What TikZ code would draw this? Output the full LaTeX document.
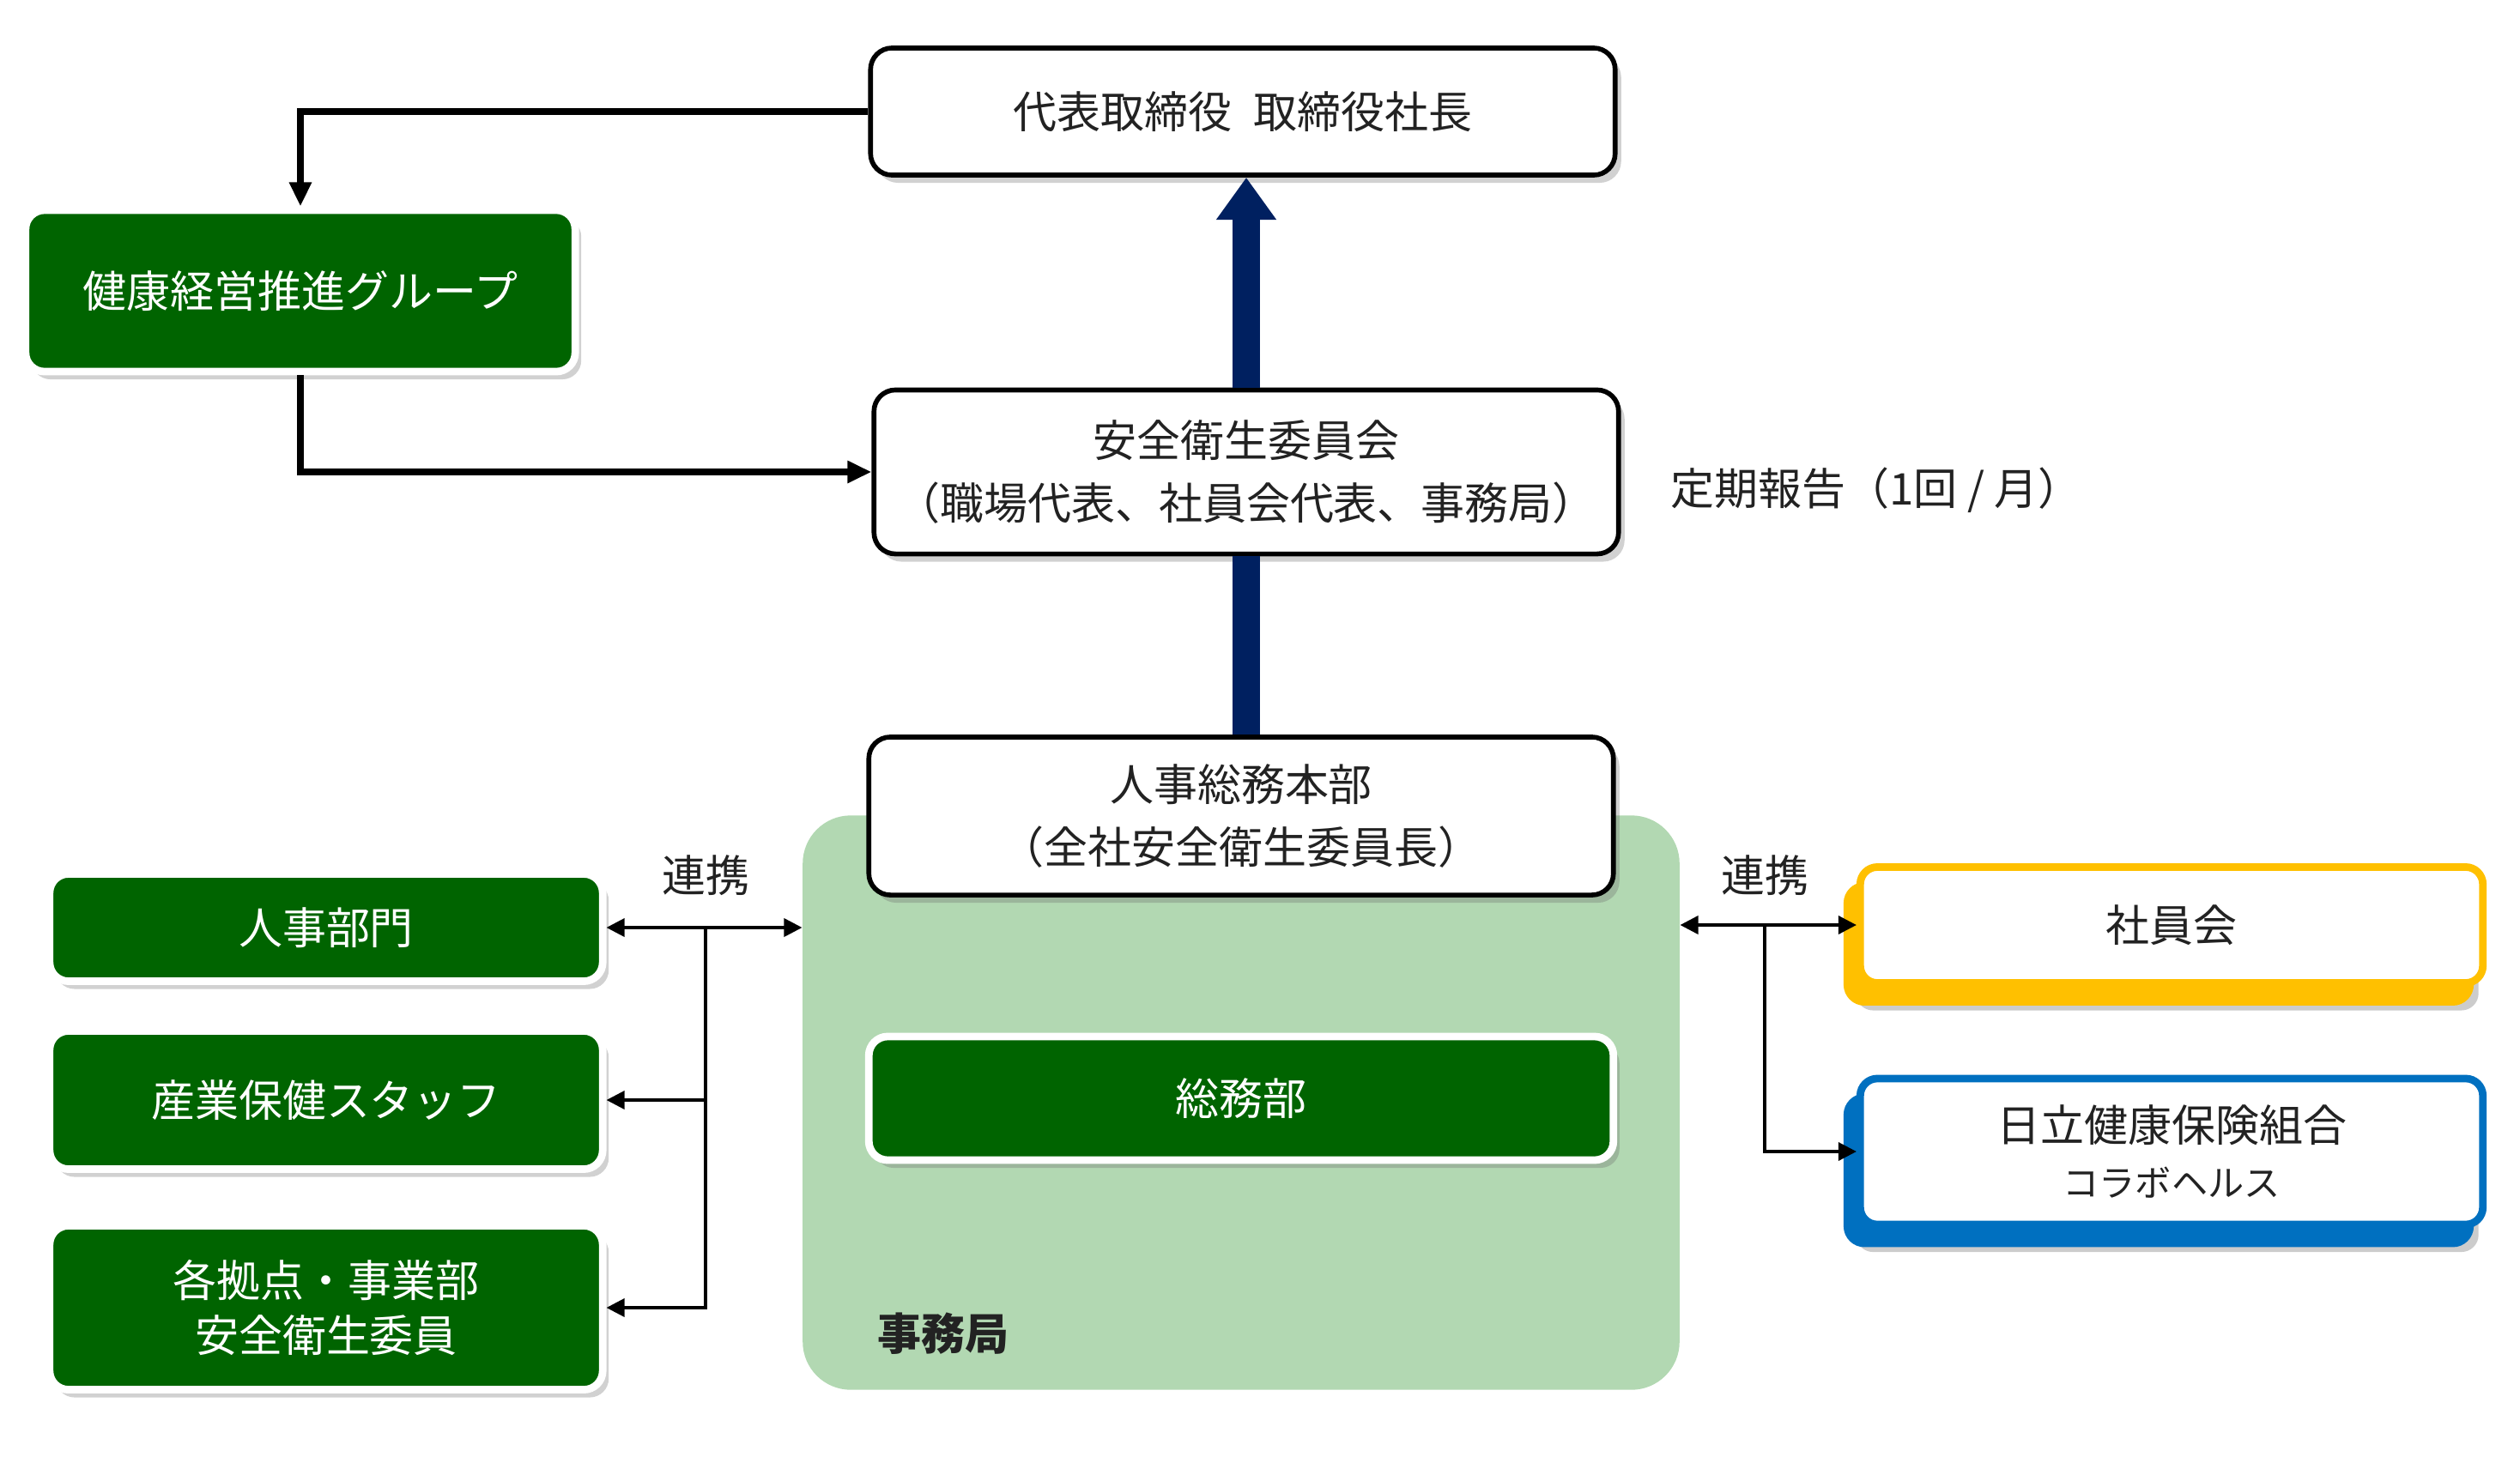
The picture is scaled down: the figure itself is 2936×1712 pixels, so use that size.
\documentclass[tikz,border=0pt]{standalone}
\usepackage{fontspec}
\setmainfont{Noto Sans CJK JP}
\usepackage{tikz}
\usetikzlibrary{arrows.meta}
\usetikzlibrary{shadows}
\usetikzlibrary{backgrounds}

\definecolor{deepgreen}{RGB}{0,100,0}
\definecolor{palegreen}{RGB}{178,216,178}
\definecolor{navyblue}{RGB}{0,32,96}
\definecolor{gold}{RGB}{255,192,0}
\definecolor{ocean}{RGB}{0,112,192}
\definecolor{ink}{RGB}{34,34,34}

\begin{document}
\begin{tikzpicture}[x=0.01cm, y=-0.01cm,
    font=\fontsize{14.5}{21}\selectfont, text=ink,
    whitebox/.style={draw=black, line width=1.6pt, fill=white, rounded corners=0.25cm,
      align=center, drop shadow={shadow xshift=0.07cm, shadow yshift=-0.09cm, opacity=0.3, fill=black!60}},
    greenbox/.style={draw=white, line width=2.5pt, fill=deepgreen, text=white, rounded corners=0.22cm,
      align=center, drop shadow={shadow xshift=0.07cm, shadow yshift=-0.09cm, opacity=0.3, fill=black!60}},
    partnerbox/.style={draw=#1, line width=2.5pt, fill=white, rounded corners=0.2cm, align=center,
      general shadow={shadow xshift=-0.05cm, shadow yshift=-0.32cm, fill=black, opacity=0.2},
      copy shadow={shadow xshift=-0.15cm, shadow yshift=-0.22cm, fill=#1, draw=#1}},
    mainline/.style={line width=2pt, -{Triangle[length=8pt, width=7pt]}},
    linkline/.style={line width=1pt},
    report/.style={draw=navyblue, line width=9pt}]
  \useasboundingbox (0,0) rectangle (2936,1712);
  \pgfmathsetmacro{\BoxW}{8.67}
  \pgfmathsetmacro{\SideW}{6.44}
  \pgfmathsetmacro{\PartW}{7.25}

  % secretariat area
  \node[fill=palegreen, rounded corners=0.56cm, minimum width=10.21cm, minimum height=6.69cm] (office) at (1446,1285) {};
  \node[anchor=west, font=\fontsize{14.5}{21}\selectfont\bfseries] (bureau) at (1010,1554) {事務局};

  % top of the chain
  \node[whitebox, minimum width=\BoxW cm, minimum height=1.48cm] (ceo) at (1448,130) {代表取締役\hspace{0.5em}取締役社長};
  \node[greenbox, minimum width=6.40cm, minimum height=1.88cm] (promo) at (350,339) {健康経営推進グループ};
  \node[whitebox, minimum width=\BoxW cm, minimum height=1.91cm] (safety) at (1452,550) {安全衛生委員会\\（職場代表、社員会代表、事務局）};
  \node[anchor=west] (monthly) at (1934,571) {定期報告（1回 / 月）};
  \node[whitebox, minimum width=\BoxW cm, minimum height=1.84cm] (hq) at (1446,951) {人事総務本部\\（全社安全衛生委員長）};
  \node[greenbox, minimum width=\BoxW cm, minimum height=1.44cm] (soumu) at (1446,1280) {総務部};

  % left side
  \node[greenbox, minimum width=\SideW cm, minimum height=1.25cm] (hr) at (380,1081) {人事部門};
  \node[greenbox, minimum width=\SideW cm, minimum height=1.61cm] (staff) at (380,1282) {産業保健スタッフ};
  \node[greenbox, minimum width=\SideW cm, minimum height=1.91cm, font=\fontsize{14.5}{18}\selectfont] (site) at (380,1524) {各拠点・事業部\\安全衛生委員};
  \node (linkL) at (822,1020) {連携};

  % right side
  \node[partnerbox=gold, minimum width=\PartW cm, minimum height=1.35cm] (union) at (2530,1078) {社員会};
  \node[partnerbox=ocean, minimum width=\PartW cm, minimum height=1.70cm, font=\fontsize{14.5}{18}\selectfont] (kenpo) at (2530,1342) {日立健康保険組合\\{\fontsize{12}{14}\selectfont コラボヘルス}};
  \node (linkR) at (2056,1020) {連携};

  % reporting arrows
  \draw[report, -{Triangle[length=14pt, width=19pt]}] (safety.north) -- (ceo.south -| safety.north);
  \draw[report] (hq.north -| safety.south) -- (safety.south);
  \draw[mainline] (ceo.west) -| (promo.north);
  \draw[mainline] (promo.south) |- (safety.west);

  % cooperation lines
  \coordinate (jl) at (822,1081);
  \draw[linkline, {Triangle[length=6pt, width=6pt]}-{Triangle[length=6pt, width=6pt]}] (hr.east) -- (office.west |- hr.east);
  \draw[linkline, -{Triangle[length=6pt, width=6pt]}] (jl) |- (staff.east);
  \draw[linkline, -{Triangle[length=6pt, width=6pt]}] (jl) |- (site.east);
  \coordinate (jr) at (2056,1078);
  \draw[linkline, {Triangle[length=6pt, width=6pt]}-{Triangle[length=6pt, width=6pt]}] (office.east |- union.west) -- (union.west);
  \draw[linkline, -{Triangle[length=6pt, width=6pt]}] (jr) |- (kenpo.west);
\end{tikzpicture}
\end{document}
